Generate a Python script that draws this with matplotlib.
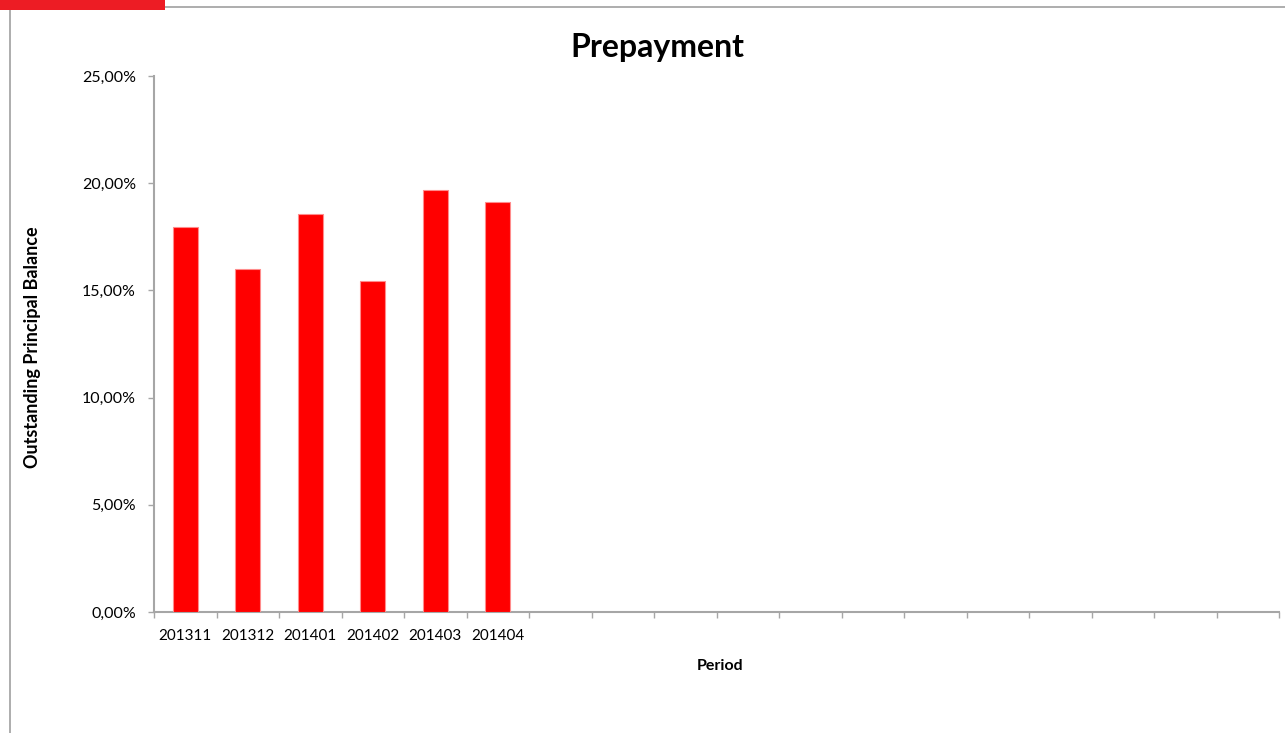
import numpy as np
import matplotlib
matplotlib.use("Agg")
import matplotlib.pyplot as plt
from matplotlib.ticker import FuncFormatter, FixedLocator
from matplotlib.lines import Line2D
from matplotlib.patches import Rectangle

# data (percent of outstanding principal balance)
periods = ["201311", "201312", "201401", "201402", "201403", "201404"]
prepay = [17.94, 15.98, 18.56, 15.42, 19.70, 19.11]
yticks = [0, 5, 10, 15, 20, 25]
n_slots = 18  # category slots shown on the axis, only the first ones filled

plt.rcParams['font.family'] = ['Lato', 'DejaVu Sans']
axis_grey = '#a6a6a6'

W, H = 1285, 733
fig = plt.figure(figsize=(W/100, H/100), dpi=100)
ax = fig.add_axes([154/W, 1-612/H, 1125/W, 536/H])

x = np.arange(len(periods))
ax.bar(x, prepay, width=0.4, color='#ff0000', edgecolor='#ff8c8c', linewidth=0.8, zorder=3)

ax.set_xlim(-0.5, n_slots - 0.5)
ax.set_ylim(0, 25)

# y axis
ax.yaxis.set_major_locator(FixedLocator(yticks))
ax.yaxis.set_major_formatter(FuncFormatter(lambda v, p: f"{v:.2f}%".replace('.', ',')))
ax.tick_params(axis='y', direction='out', length=4, width=1, color=axis_grey,
               labelsize=11.5, pad=9)

# x axis: labels at slot centres, tick marks at slot boundaries
ax.set_xticks(x)
ax.set_xticklabels(periods)
ax.set_xticks(np.arange(n_slots + 1) - 0.5, minor=True)
ax.tick_params(axis='x', which='major', length=0, labelsize=11, pad=12)
ax.tick_params(axis='x', which='minor', direction='out', length=4, width=1, color=axis_grey)

for side in ['top', 'right']:
    ax.spines[side].set_visible(False)
for side in ['left', 'bottom']:
    ax.spines[side].set_color(axis_grey)
    ax.spines[side].set_linewidth(1.5)

fig.text(657/W, 1-47/H, "Prepayment", fontsize=23, fontweight='bold', ha='center', va='center')
fig.text(720/W, 1-666/H, "Period", fontsize=11.5, fontweight='bold', ha='center', va='center')
fig.text(33/W, 1-347/H, "Outstanding Principal Balance", fontsize=13, fontweight='bold',
         ha='center', va='center', rotation=90)

# page frame around the chart
fig.add_artist(Line2D([10/W, 10/W], [0, 1-7/H], color='#a0a0a0', linewidth=1.2))
fig.add_artist(Line2D([10/W, 1], [1-7/H, 1-7/H], color='#a0a0a0', linewidth=1.2))
fig.add_artist(Rectangle((0, 1-10/H), 165/W, 10/H, transform=fig.transFigure,
                         color='#ed1c24', linewidth=0, zorder=5))

fig.savefig("out.png", dpi=100)
